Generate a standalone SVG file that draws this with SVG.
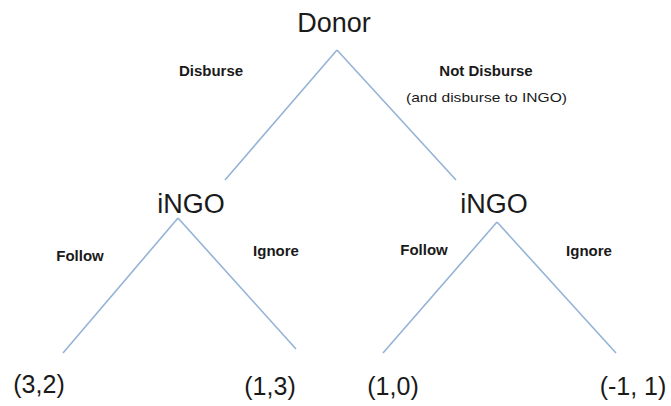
<svg xmlns="http://www.w3.org/2000/svg" width="671" height="406" viewBox="0 0 671 406">
<style>
.edge{stroke:#95b3d7;stroke-width:1.6;fill:none}
.node{font-family:"Liberation Sans",Arial,sans-serif;font-size:27px;fill:#1a1a1a}
.pay{font-family:"Liberation Sans",Arial,sans-serif;font-size:25px;fill:#1a1a1a}
.lbl{font-family:"Liberation Sans",Arial,sans-serif;font-size:15px;font-weight:bold;fill:#1a1a1a}
.sub{font-family:"Liberation Sans",Arial,sans-serif;font-size:13.5px;fill:#1a1a1a}
</style>
<rect width="671" height="406" fill="#ffffff"/>
<g id="connectors">
<line class="edge" x1="337" y1="50" x2="225" y2="180"/>
<line class="edge" x1="337" y1="50" x2="456" y2="180"/>
<line class="edge" x1="178" y1="218" x2="63" y2="353"/>
<line class="edge" x1="178" y1="218" x2="296" y2="349"/>
<line class="edge" x1="497" y1="222" x2="383" y2="353"/>
<line class="edge" x1="497" y1="222" x2="616" y2="353"/>
</g>
<g id="donor"><text class="node" x="334" y="32" text-anchor="middle" font-size="28">Donor</text></g>
<g id="label-disburse"><text class="lbl" x="211" y="76" text-anchor="middle">Disburse</text></g>
<g id="label-notdisburse">
<text class="lbl" x="486" y="76" text-anchor="middle">Not Disburse</text>
<text class="sub" x="406" y="102" textLength="161" lengthAdjust="spacingAndGlyphs">(and disburse to INGO)</text>
</g>
<g id="ingo-left"><text class="node" x="191" y="213" text-anchor="middle">iNGO</text></g>
<g id="ingo-right"><text class="node" x="494" y="213" text-anchor="middle">iNGO</text></g>
<g id="label-follow-left"><text class="lbl" x="80" y="261" text-anchor="middle">Follow</text></g>
<g id="label-ignore-left"><text class="lbl" x="276" y="256" text-anchor="middle">Ignore</text></g>
<g id="label-follow-right"><text class="lbl" x="424" y="255" text-anchor="middle">Follow</text></g>
<g id="label-ignore-right"><text class="lbl" x="589" y="256" text-anchor="middle">Ignore</text></g>
<g id="payoff-1"><text class="pay" x="39" y="393" text-anchor="middle">(3,2)</text></g>
<g id="payoff-2"><text class="pay" x="270" y="395" text-anchor="middle">(1,3)</text></g>
<g id="payoff-3"><text class="pay" x="393" y="395" text-anchor="middle">(1,0)</text></g>
<g id="payoff-4"><text class="pay" x="633" y="395" text-anchor="middle">(-1, 1)</text></g>
</svg>
